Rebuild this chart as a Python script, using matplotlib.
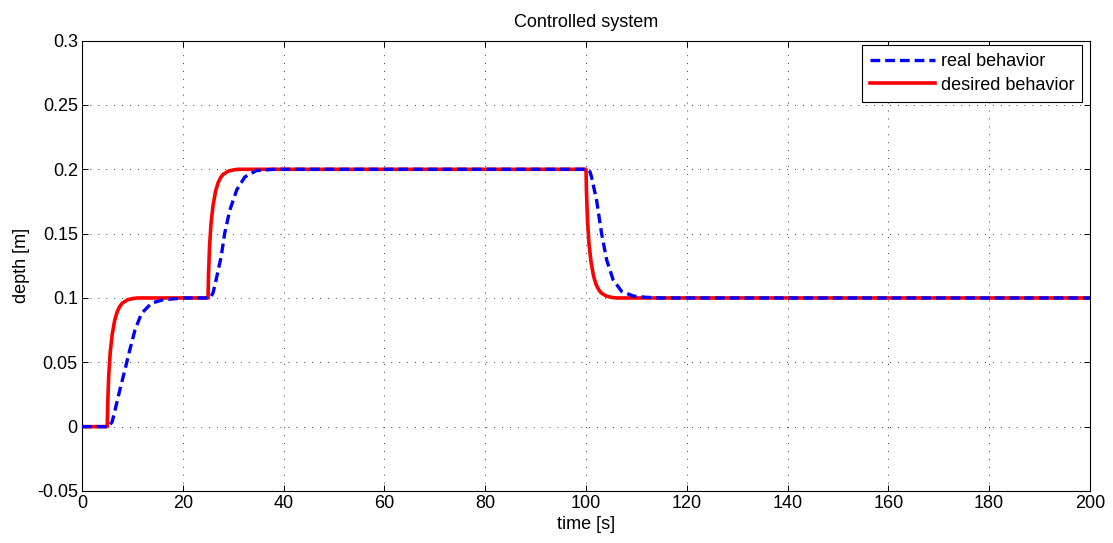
import matplotlib as mpl
mpl.use("Agg")
import matplotlib.pyplot as plt

mpl.rcParams["font.family"] = ["Liberation Sans", "DejaVu Sans"]
mpl.rcParams["font.size"] = 13
mpl.rcParams["lines.scale_dashes"] = False

# desired behavior
t_desired = [0, 5.0, 5.1, 5.3, 5.6, 6.0, 6.5, 7.0, 7.5, 8.0, 9.0, 10.0, 11.0,
             25.0, 25.1, 25.3, 25.6, 26.0, 26.5, 27.0, 27.5, 28.0, 29.0, 30.0, 31.0,
             100.0, 100.1, 100.3, 100.6, 101.0, 101.5, 102.0, 102.5, 103.0, 104.0, 105.0, 106.0,
             200]
y_desired = [0, 0, 0.018, 0.040, 0.058, 0.072, 0.083, 0.0895, 0.0935, 0.096, 0.0985, 0.0995, 0.1,
             0.1, 0.118, 0.140, 0.158, 0.172, 0.183, 0.1895, 0.1935, 0.196, 0.1985, 0.1995, 0.2,
             0.2, 0.182, 0.160, 0.142, 0.128, 0.117, 0.1105, 0.1065, 0.104, 0.1015, 0.1005, 0.1,
             0.1]

# real behavior
t_real = [0, 5.3, 6.0, 6.5, 7.5, 8.5, 9.5, 10.5, 11.8, 13.8, 16.0, 20.0,
          25.4, 26.0, 26.6, 27.6, 28.3, 29.3, 30.7, 32.3, 34.6, 38.0,
          100.3, 100.8, 101.1, 102.1, 103.1, 104.1, 105.4, 107.1, 109.4, 112.0, 115.0,
          200]
y_real = [0, 0, 0.004, 0.012, 0.0285, 0.044, 0.060, 0.075, 0.088, 0.096, 0.0985, 0.1,
          0.1, 0.104, 0.114, 0.132, 0.150, 0.168, 0.184, 0.194, 0.199, 0.2,
          0.2, 0.198, 0.194, 0.176, 0.150, 0.1295, 0.114, 0.105, 0.1015, 0.1005, 0.1,
          0.1]

x_ticks = [0, 20, 40, 60, 80, 100, 120, 140, 160, 180, 200]
y_ticks = [-0.05, 0, 0.05, 0.1, 0.15, 0.2, 0.25, 0.3]
y_ticklabels = ["-0.05", "0", "0.05", "0.1", "0.15", "0.2", "0.25", "0.3"]

fig = plt.figure(figsize=(11.13, 5.43), dpi=100, facecolor="white")
ax = fig.add_axes([0.0737, 0.0958, 0.9056, 0.8294])

ax.plot(t_real, y_real, color="#0000ff", lw=2.4, linestyle=(0, (7.0, 3.6)),
        label="real behavior", zorder=3)
ax.plot(t_desired, y_desired, color="#ff0000", lw=2.6, label="desired behavior", zorder=2)

ax.set_xlim(0, 200)
ax.set_ylim(-0.05, 0.3)
ax.set_xticks(x_ticks)
ax.set_yticks(y_ticks)
ax.set_yticklabels(y_ticklabels)

# MATLAB-style dotted grid, inward ticks on all four sides
ax.grid(True, color="0.25", linestyle=(0, (0.7, 5)), linewidth=0.7)
ax.tick_params(direction="in", length=4.5, width=0.7, top=True, right=True,
               labelsize=13, pad=3)
for s in ax.spines.values():
    s.set_linewidth(0.8)
    s.set_color("black")

ax.set_title("Controlled system", fontsize=13, pad=10)
ax.set_xlabel("time [s]", fontsize=13, labelpad=3)
ax.set_ylabel("depth [m]", fontsize=13, labelpad=5)

leg = ax.legend(loc="upper right", bbox_to_anchor=(0.9925, 0.99), fancybox=False,
                framealpha=1, edgecolor="black", fontsize=13, handlelength=3.6,
                handletextpad=0.3, borderpad=0.45, labelspacing=0.35, borderaxespad=0)
leg.get_frame().set_linewidth(0.8)

fig.savefig("out.png", dpi=100, facecolor="white")
